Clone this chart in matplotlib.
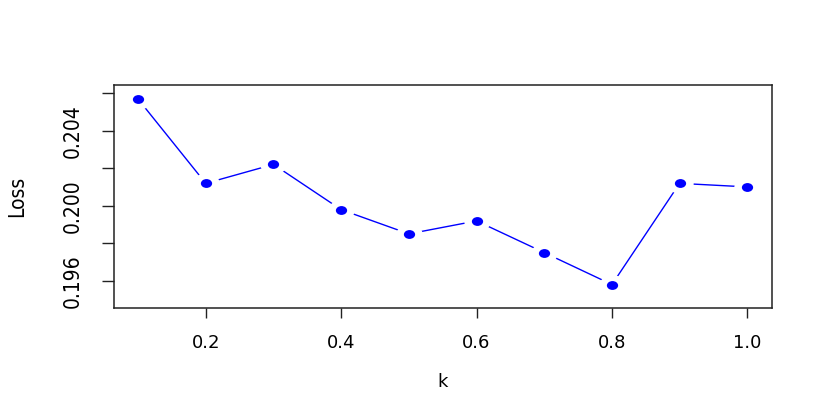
import matplotlib
matplotlib.use("Agg")
import matplotlib.pyplot as plt
from matplotlib import font_manager as fm
from matplotlib.path import Path
from matplotlib.transforms import Affine2D

k = [0.1, 0.2, 0.3, 0.4, 0.5, 0.6, 0.7, 0.8, 0.9, 1.0]
loss = [0.20569, 0.20120, 0.20221, 0.19980, 0.19851, 0.19920, 0.19751, 0.19581, 0.20120, 0.20101]
xticks = [0.2, 0.4, 0.6, 0.8, 1.0]
xticklabels = ["0.2", "0.4", "0.6", "0.8", "1.0"]
yticks = [0.196, 0.198, 0.200, 0.202, 0.204, 0.206]
yticklabels = ["0.196", "", "0.200", "", "0.204", ""]

# find a condensed / narrow sans face if one is installed
narrow_fp = None
cands = []
for f in fm.fontManager.ttflist:
    nm = f.name.lower()
    fn = f.fname.lower()
    isnarrow = ("narrow" in nm or "condensed" in nm or "narrow" in fn or "condensed" in fn
                or str(f.stretch) in ("condensed", "semi-condensed"))
    if isnarrow and f.style == "normal" and ("bold" not in fn) and ("oblique" not in fn) and ("italic" not in fn):
        pri = 0 if "liberation" in nm else (1 if "dejavu" in nm else 2)
        cands.append((pri, f.fname))
if cands:
    cands.sort()
    narrow_fp = cands[0][1]

if narrow_fp:
    ylab_font = dict(fontproperties=fm.FontProperties(fname=narrow_fp, size=15))
    ysize = 15
else:
    ylab_font = dict(fontproperties=fm.FontProperties(family="Liberation Sans", size=12.5))
    ysize = 12.5

wide = "DejaVu Sans"

fig = plt.figure(figsize=(8.3, 4.15), dpi=100)
ax = fig.add_axes([113.7/830, (415-308)/415, (771.7-113.7)/830, (308-85)/415])

ell = Path.unit_circle().transformed(Affine2D().scale(1.27, 1.0))

ax.plot(k, loss, color="blue", lw=1.0, zorder=2, solid_capstyle="butt")
ax.plot(k, loss, linestyle="none", marker=ell, markersize=19, markerfacecolor="white",
        markeredgecolor="none", zorder=3)
ax.plot(k, loss, linestyle="none", marker=ell, markersize=8.1, markerfacecolor="blue",
        markeredgecolor="none", zorder=4)

ax.set_xlim(0.064, 1.036)
ax.set_ylim(0.195 - 0.00044, 0.206 + 0.00044)

ax.set_xticks(xticks)
ax.set_xticklabels(xticklabels, fontsize=13, family=wide)
ax.set_yticks(yticks)
ax.set_yticklabels(yticklabels, rotation=90, va="center", **ylab_font)

ax.tick_params(axis="x", direction="out", length=7.5, width=1.0, pad=11, color="#222222")
ax.tick_params(axis="y", direction="out", length=9, width=1.0, pad=13, color="#222222")

for s in ax.spines.values():
    s.set_linewidth(1.1)
    s.set_color("#222222")

ax.set_xlabel("k", fontsize=13, family=wide)
ax.xaxis.label.set(va="center", ha="center")
ax.xaxis.set_label_coords(0.5, (308 - 382) / 223)

ax.set_ylabel("Loss", **ylab_font)
ax.yaxis.label.set(va="center", ha="center", rotation_mode="default")
ax.yaxis.set_label_coords((17 - 113.7) / 658, 0.5)

fig.savefig("out.png", dpi=100)
